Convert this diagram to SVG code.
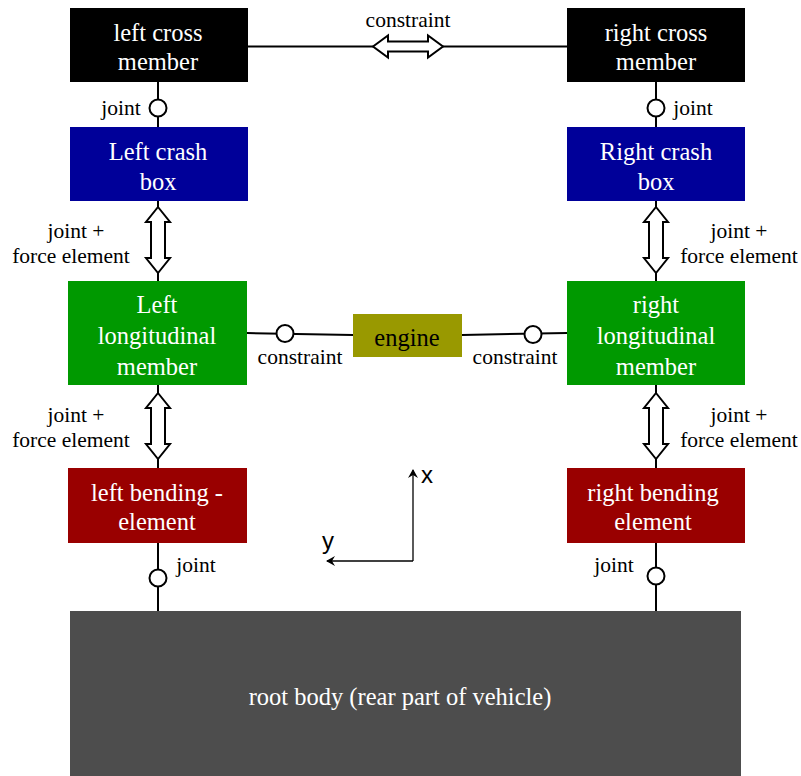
<svg xmlns="http://www.w3.org/2000/svg" width="801" height="776" viewBox="0 0 801 776">
<style>
.nt{font-family:"Liberation Serif","Times New Roman",serif;font-size:24.5px;fill:#fff;text-anchor:middle}
.lb{font-family:"Liberation Serif","Times New Roman",serif;font-size:21.5px;fill:#000;text-anchor:middle}
.ax{font-family:"Liberation Sans",Arial,sans-serif;font-size:24px;fill:#000}
.ln{stroke:#000;stroke-width:2;fill:none}
.jt{stroke:#000;stroke-width:2;fill:#fff}
.da{stroke:#000;stroke-width:2;fill:#fff;stroke-linejoin:miter}
</style>
<defs>
<marker id="ah" markerWidth="10" markerHeight="10" refX="8" refY="5" orient="auto" markerUnits="userSpaceOnUse">
<path d="M0,0 L9,5 L0,10 L3,5 Z" fill="#000"/>
</marker>
<path id="vda" d="M0,-33 L12,-18 L7,-18 L7,18 L12,18 L0,33 L-12,18 L-7,18 L-7,-18 L-12,-18 Z"/>
</defs>
<rect width="801" height="776" fill="#fff"/>
<g id="connectors">
<line class="ln" x1="248" y1="46.5" x2="567" y2="46.5"/>
<path class="da" d="M373,46.5 L388,35.5 L388,41.5 L428,41.5 L428,35.5 L443,46.5 L428,57.5 L428,51.5 L388,51.5 L388,57.5 Z"/>
<text class="lb" x="408" y="27">constraint</text>
<line class="ln" x1="158" y1="82" x2="158" y2="127"/>
<circle class="jt" cx="158" cy="108" r="8.5"/>
<text class="lb" x="121" y="115">joint</text>
<line class="ln" x1="656" y1="82" x2="656" y2="127"/>
<circle class="jt" cx="656" cy="108" r="8.5"/>
<text class="lb" x="693" y="115">joint</text>
<line class="ln" x1="158" y1="201" x2="158" y2="281"/>
<use href="#vda" x="158" y="240" class="da"/>
<text class="lb" x="76" y="238">joint +</text>
<text class="lb" x="71" y="263">force element</text>
<line class="ln" x1="656" y1="201" x2="656" y2="281"/>
<use href="#vda" x="656" y="240" class="da"/>
<text class="lb" x="739" y="238">joint +</text>
<text class="lb" x="739" y="263">force element</text>
<line class="ln" x1="158" y1="385" x2="158" y2="468"/>
<use href="#vda" x="158" y="426" class="da"/>
<text class="lb" x="76" y="422">joint +</text>
<text class="lb" x="71" y="447">force element</text>
<line class="ln" x1="656" y1="385" x2="656" y2="468"/>
<use href="#vda" x="656" y="426" class="da"/>
<text class="lb" x="739" y="422">joint +</text>
<text class="lb" x="739" y="447">force element</text>
<line class="ln" x1="247" y1="333" x2="353" y2="335"/>
<circle class="jt" cx="285" cy="333.5" r="8.5"/>
<text class="lb" x="300" y="364">constraint</text>
<line class="ln" x1="462" y1="335" x2="567" y2="333"/>
<circle class="jt" cx="533" cy="334.5" r="8.5"/>
<text class="lb" x="515" y="364">constraint</text>
<line class="ln" x1="158" y1="543" x2="158" y2="611"/>
<circle class="jt" cx="158" cy="578" r="8.5"/>
<text class="lb" x="196" y="572">joint</text>
<line class="ln" x1="656" y1="543" x2="656" y2="611"/>
<circle class="jt" cx="656" cy="576" r="8.5"/>
<text class="lb" x="614" y="572">joint</text>
<line stroke="#000" stroke-width="1.3" x1="413" y1="561" x2="413" y2="470" marker-end="url(#ah)"/>
<line stroke="#000" stroke-width="1.3" x1="413" y1="561" x2="327" y2="561" marker-end="url(#ah)"/>
<text class="ax" x="421" y="483">x</text>
<text class="ax" x="322" y="549">y</text>
</g>
<g id="left-cross-member">
<rect x="70" y="8" width="178" height="74" fill="#000"/>
<text class="nt" x="158" y="41">left cross</text>
<text class="nt" x="158" y="70">member</text>
</g>
<g id="right-cross-member">
<rect x="567" y="8" width="178" height="74" fill="#000"/>
<text class="nt" x="656" y="41">right cross</text>
<text class="nt" x="656" y="70">member</text>
</g>
<g id="left-crash-box">
<rect x="70" y="127" width="178" height="74" fill="#000099"/>
<text class="nt" x="158" y="160">Left crash</text>
<text class="nt" x="158" y="190">box</text>
</g>
<g id="right-crash-box">
<rect x="567" y="127" width="178" height="74" fill="#000099"/>
<text class="nt" x="656" y="160">Right crash</text>
<text class="nt" x="656" y="190">box</text>
</g>
<g id="left-longitudinal-member">
<rect x="68" y="281" width="179" height="104" fill="#009900"/>
<text class="nt" x="157" y="313">Left</text>
<text class="nt" x="157" y="344">longitudinal</text>
<text class="nt" x="157" y="375">member</text>
</g>
<g id="right-longitudinal-member">
<rect x="567" y="281" width="178" height="104" fill="#009900"/>
<text class="nt" x="656" y="313">right</text>
<text class="nt" x="656" y="344">longitudinal</text>
<text class="nt" x="656" y="375">member</text>
</g>
<g id="engine">
<rect x="353" y="314" width="109" height="43" fill="#999900"/>
<text class="nt" x="407" y="346" style="fill:#000">engine</text>
</g>
<g id="left-bending-element">
<rect x="68" y="468" width="179" height="75" fill="#990000"/>
<text class="nt" x="157" y="501">left bending -</text>
<text class="nt" x="157" y="530">element</text>
</g>
<g id="right-bending-element">
<rect x="567" y="468" width="178" height="75" fill="#990000"/>
<text class="nt" x="653" y="501">right bending</text>
<text class="nt" x="653" y="530">element</text>
</g>
<g id="root-body">
<rect x="70" y="611" width="671" height="165" fill="#4d4d4d"/>
<text class="nt" x="400" y="705">root body (rear part of vehicle)</text>
</g>
</svg>
